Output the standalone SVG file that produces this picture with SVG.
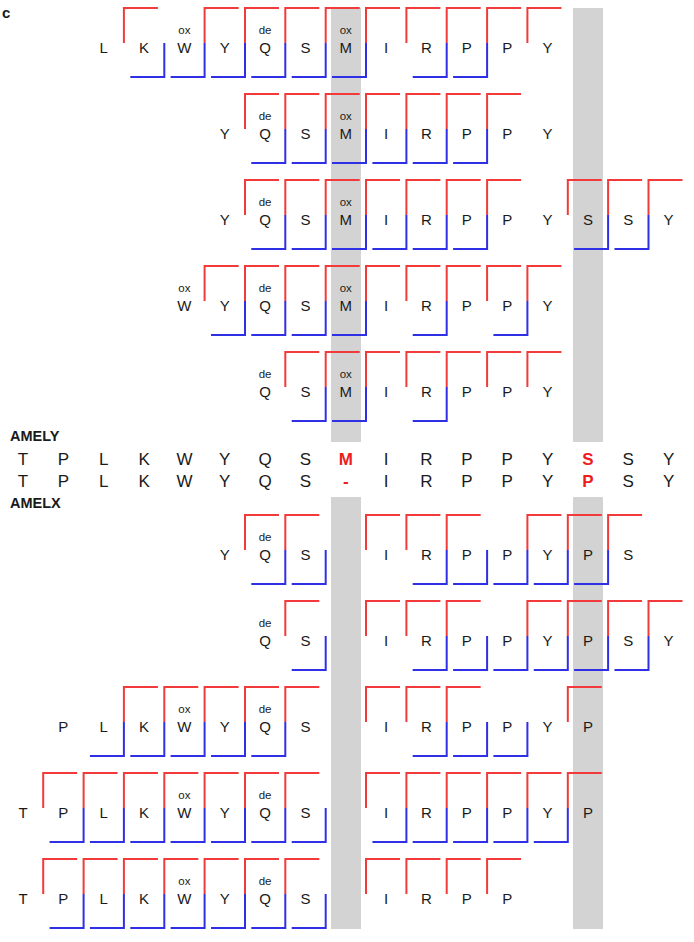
<svg xmlns="http://www.w3.org/2000/svg" width="694" height="942" viewBox="0 0 694 942">
<style>
text{font-family:"Liberation Sans",Arial,sans-serif;fill:#1a1a1a}
.a{font-size:15px;text-anchor:middle}
.m{font-size:11.5px;text-anchor:middle}
.s{font-size:17px;text-anchor:middle}
.h{font-size:17px;text-anchor:middle;font-weight:bold;fill:#ee1c1c}
.l{font-size:14.5px;font-weight:bold}
.r{fill:none;stroke:#f23a3a;stroke-width:2}
.b{fill:none;stroke:#2f2fe6;stroke-width:2}
.g{fill:#d3d3d3}
</style>
<rect width="694" height="942" fill="#fff"/>
<g id="bands">
<rect class="g" x="331" y="8" width="30" height="434"/>
<rect class="g" x="573" y="8" width="30" height="434"/>
<rect class="g" x="331" y="497" width="30" height="432"/>
<rect class="g" x="573" y="497" width="30" height="432"/>
</g>
<text class="l" x="2" y="18" style="font-size:15px">c</text>
<g id="connectors">
<path class="r" d="M123.9,43V8H157.9 M204.6,43V8H238.6 M245,43V8H279 M285.3,43V8H319.3 M325.7,43V8H359.7 M366,43V8H400 M406.4,43V8H440.4 M446.7,43V8H480.7 M487.1,43V8H521.1 M527.4,43V8H561.4"/>
<path class="b" d="M164.3,43V77H130.3 M204.6,43V77H170.6 M245,43V77H211 M285.3,43V77H251.3 M325.7,43V77H291.7 M366,43V77H332 M446.7,43V77H412.7 M487.1,43V77H453.1"/>
<path class="r" d="M245,129V94H279 M285.3,129V94H319.3 M325.7,129V94H359.7 M366,129V94H400 M406.4,129V94H440.4 M446.7,129V94H480.7 M487.1,129V94H521.1"/>
<path class="b" d="M285.3,129V163H251.3 M325.7,129V163H291.7 M366,129V163H332 M406.4,129V163H372.4 M446.7,129V163H412.7 M487.1,129V163H453.1"/>
<path class="r" d="M245,215V180H279 M285.3,215V180H319.3 M325.7,215V180H359.7 M366,215V180H400 M406.4,215V180H440.4 M446.7,215V180H480.7 M487.1,215V180H521.1 M567.8,215V180H601.8 M608.1,215V180H642.1 M648.5,215V180H682.5"/>
<path class="b" d="M285.3,215V249H251.3 M325.7,215V249H291.7 M366,215V249H332 M406.4,215V249H372.4 M446.7,215V249H412.7 M487.1,215V249H453.1 M608.1,215V249H574.1 M648.5,215V249H614.5"/>
<path class="r" d="M204.6,301V266H238.6 M245,301V266H279 M285.3,301V266H319.3 M325.7,301V266H359.7 M366,301V266H400 M406.4,301V266H440.4 M446.7,301V266H480.7 M487.1,301V266H521.1 M527.4,301V266H561.4"/>
<path class="b" d="M245,301V335H211 M285.3,301V335H251.3 M325.7,301V335H291.7 M366,301V335H332 M446.7,301V335H412.7 M527.4,301V335H493.4"/>
<path class="r" d="M285.3,387V352H319.3 M325.7,387V352H359.7 M366,387V352H400 M406.4,387V352H440.4 M446.7,387V352H480.7 M487.1,387V352H521.1 M527.4,387V352H561.4"/>
<path class="b" d="M325.7,387V421H291.7 M366,387V421H332 M446.7,387V421H412.7"/>
<path class="r" d="M245,550V515H279 M285.3,550V515H319.3 M366,550V515H400 M406.4,550V515H440.4 M446.7,550V515H480.7 M527.4,550V515H561.4 M567.8,550V515H601.8 M608.1,550V515H642.1"/>
<path class="b" d="M285.3,550V584H251.3 M325.7,550V584H291.7 M446.7,550V584H412.7 M487.1,550V584H453.1 M527.4,550V584H493.4 M567.8,550V584H533.8 M608.1,550V584H574.1"/>
<path class="r" d="M285.3,636V601H319.3 M366,636V601H400 M406.4,636V601H440.4 M446.7,636V601H480.7 M527.4,636V601H561.4 M567.8,636V601H601.8 M608.1,636V601H642.1 M648.5,636V601H682.5"/>
<path class="b" d="M325.7,636V670H291.7 M446.7,636V670H412.7 M487.1,636V670H453.1 M527.4,636V670H493.4 M567.8,636V670H533.8 M608.1,636V670H574.1 M648.5,636V670H614.5"/>
<path class="r" d="M123.9,722V687H157.9 M164.3,722V687H198.3 M204.6,722V687H238.6 M245,722V687H279 M285.3,722V687H319.3 M366,722V687H400 M406.4,722V687H440.4 M446.7,722V687H480.7 M567.8,722V687H601.8"/>
<path class="b" d="M123.9,722V756H89.9 M164.3,722V756H130.3 M204.6,722V756H170.6 M245,722V756H211 M285.3,722V756H251.3 M446.7,722V756H412.7 M487.1,722V756H453.1 M527.4,722V756H493.4"/>
<path class="r" d="M43.2,808V773H77.2 M83.6,808V773H117.6 M123.9,808V773H157.9 M164.3,808V773H198.3 M204.6,808V773H238.6 M245,808V773H279 M285.3,808V773H319.3 M366,808V773H400 M406.4,808V773H440.4 M446.7,808V773H480.7 M487.1,808V773H521.1 M527.4,808V773H561.4 M567.8,808V773H601.8"/>
<path class="b" d="M83.6,808V842H49.6 M123.9,808V842H89.9 M164.3,808V842H130.3 M204.6,808V842H170.6 M245,808V842H211 M285.3,808V842H251.3 M325.7,808V842H291.7 M406.4,808V842H372.4 M446.7,808V842H412.7 M487.1,808V842H453.1 M527.4,808V842H493.4 M567.8,808V842H533.8"/>
<path class="r" d="M43.2,894V859H77.2 M83.6,894V859H117.6 M123.9,894V859H157.9 M164.3,894V859H198.3 M204.6,894V859H238.6 M245,894V859H279 M285.3,894V859H319.3 M366,894V859H400 M406.4,894V859H440.4 M446.7,894V859H480.7 M487.1,894V859H521.1"/>
<path class="b" d="M83.6,894V928H49.6 M123.9,894V928H89.9 M164.3,894V928H130.3 M204.6,894V928H170.6 M245,894V928H211 M285.3,894V928H251.3 M325.7,894V928H291.7"/>
</g>
<g id="row1">
<text class="a" x="103.7" y="53">L</text><text class="a" x="144.05" y="53">K</text><text class="a" x="184.4" y="53">W</text><text class="a" x="224.75" y="53">Y</text><text class="a" x="265.1" y="53">Q</text><text class="a" x="305.45" y="53">S</text><text class="a" x="345.8" y="53">M</text><text class="a" x="386.15" y="53">I</text><text class="a" x="426.5" y="53">R</text><text class="a" x="466.85" y="53">P</text><text class="a" x="507.2" y="53">P</text><text class="a" x="547.55" y="53">Y</text>
<text class="m" x="184.4" y="34">ox</text><text class="m" x="265.1" y="34">de</text><text class="m" x="345.8" y="34">ox</text>
</g>
<g id="row2">
<text class="a" x="224.75" y="139">Y</text><text class="a" x="265.1" y="139">Q</text><text class="a" x="305.45" y="139">S</text><text class="a" x="345.8" y="139">M</text><text class="a" x="386.15" y="139">I</text><text class="a" x="426.5" y="139">R</text><text class="a" x="466.85" y="139">P</text><text class="a" x="507.2" y="139">P</text><text class="a" x="547.55" y="139">Y</text>
<text class="m" x="265.1" y="120">de</text><text class="m" x="345.8" y="120">ox</text>
</g>
<g id="row3">
<text class="a" x="224.75" y="225">Y</text><text class="a" x="265.1" y="225">Q</text><text class="a" x="305.45" y="225">S</text><text class="a" x="345.8" y="225">M</text><text class="a" x="386.15" y="225">I</text><text class="a" x="426.5" y="225">R</text><text class="a" x="466.85" y="225">P</text><text class="a" x="507.2" y="225">P</text><text class="a" x="547.55" y="225">Y</text><text class="a" x="587.9" y="225">S</text><text class="a" x="628.25" y="225">S</text><text class="a" x="668.6" y="225">Y</text>
<text class="m" x="265.1" y="206">de</text><text class="m" x="345.8" y="206">ox</text>
</g>
<g id="row4">
<text class="a" x="184.4" y="311">W</text><text class="a" x="224.75" y="311">Y</text><text class="a" x="265.1" y="311">Q</text><text class="a" x="305.45" y="311">S</text><text class="a" x="345.8" y="311">M</text><text class="a" x="386.15" y="311">I</text><text class="a" x="426.5" y="311">R</text><text class="a" x="466.85" y="311">P</text><text class="a" x="507.2" y="311">P</text><text class="a" x="547.55" y="311">Y</text>
<text class="m" x="184.4" y="292">ox</text><text class="m" x="265.1" y="292">de</text><text class="m" x="345.8" y="292">ox</text>
</g>
<g id="row5">
<text class="a" x="265.1" y="397">Q</text><text class="a" x="305.45" y="397">S</text><text class="a" x="345.8" y="397">M</text><text class="a" x="386.15" y="397">I</text><text class="a" x="426.5" y="397">R</text><text class="a" x="466.85" y="397">P</text><text class="a" x="507.2" y="397">P</text><text class="a" x="547.55" y="397">Y</text>
<text class="m" x="265.1" y="378">de</text><text class="m" x="345.8" y="378">ox</text>
</g>
<g id="alignment">
<text class="l" x="10" y="441">AMELY</text>
<text class="s" x="23" y="465">T</text><text class="s" x="63.35" y="465">P</text><text class="s" x="103.7" y="465">L</text><text class="s" x="144.05" y="465">K</text><text class="s" x="184.4" y="465">W</text><text class="s" x="224.75" y="465">Y</text><text class="s" x="265.1" y="465">Q</text><text class="s" x="305.45" y="465">S</text><text class="h" x="345.8" y="465">M</text><text class="s" x="386.15" y="465">I</text><text class="s" x="426.5" y="465">R</text><text class="s" x="466.85" y="465">P</text><text class="s" x="507.2" y="465">P</text><text class="s" x="547.55" y="465">Y</text><text class="h" x="587.9" y="465">S</text><text class="s" x="628.25" y="465">S</text><text class="s" x="668.6" y="465">Y</text>
<text class="s" x="23" y="487">T</text><text class="s" x="63.35" y="487">P</text><text class="s" x="103.7" y="487">L</text><text class="s" x="144.05" y="487">K</text><text class="s" x="184.4" y="487">W</text><text class="s" x="224.75" y="487">Y</text><text class="s" x="265.1" y="487">Q</text><text class="s" x="305.45" y="487">S</text><text class="h" x="345.8" y="487">-</text><text class="s" x="386.15" y="487">I</text><text class="s" x="426.5" y="487">R</text><text class="s" x="466.85" y="487">P</text><text class="s" x="507.2" y="487">P</text><text class="s" x="547.55" y="487">Y</text><text class="h" x="587.9" y="487">P</text><text class="s" x="628.25" y="487">S</text><text class="s" x="668.6" y="487">Y</text>
<text class="l" x="10" y="508">AMELX</text>
</g>
<g id="row6">
<text class="a" x="224.75" y="560">Y</text><text class="a" x="265.1" y="560">Q</text><text class="a" x="305.45" y="560">S</text><text class="a" x="386.15" y="560">I</text><text class="a" x="426.5" y="560">R</text><text class="a" x="466.85" y="560">P</text><text class="a" x="507.2" y="560">P</text><text class="a" x="547.55" y="560">Y</text><text class="a" x="587.9" y="560">P</text><text class="a" x="628.25" y="560">S</text>
<text class="m" x="265.1" y="541">de</text>
</g>
<g id="row7">
<text class="a" x="265.1" y="646">Q</text><text class="a" x="305.45" y="646">S</text><text class="a" x="386.15" y="646">I</text><text class="a" x="426.5" y="646">R</text><text class="a" x="466.85" y="646">P</text><text class="a" x="507.2" y="646">P</text><text class="a" x="547.55" y="646">Y</text><text class="a" x="587.9" y="646">P</text><text class="a" x="628.25" y="646">S</text><text class="a" x="668.6" y="646">Y</text>
<text class="m" x="265.1" y="627">de</text>
</g>
<g id="row8">
<text class="a" x="63.35" y="732">P</text><text class="a" x="103.7" y="732">L</text><text class="a" x="144.05" y="732">K</text><text class="a" x="184.4" y="732">W</text><text class="a" x="224.75" y="732">Y</text><text class="a" x="265.1" y="732">Q</text><text class="a" x="305.45" y="732">S</text><text class="a" x="386.15" y="732">I</text><text class="a" x="426.5" y="732">R</text><text class="a" x="466.85" y="732">P</text><text class="a" x="507.2" y="732">P</text><text class="a" x="547.55" y="732">Y</text><text class="a" x="587.9" y="732">P</text>
<text class="m" x="184.4" y="713">ox</text><text class="m" x="265.1" y="713">de</text>
</g>
<g id="row9">
<text class="a" x="23" y="818">T</text><text class="a" x="63.35" y="818">P</text><text class="a" x="103.7" y="818">L</text><text class="a" x="144.05" y="818">K</text><text class="a" x="184.4" y="818">W</text><text class="a" x="224.75" y="818">Y</text><text class="a" x="265.1" y="818">Q</text><text class="a" x="305.45" y="818">S</text><text class="a" x="386.15" y="818">I</text><text class="a" x="426.5" y="818">R</text><text class="a" x="466.85" y="818">P</text><text class="a" x="507.2" y="818">P</text><text class="a" x="547.55" y="818">Y</text><text class="a" x="587.9" y="818">P</text>
<text class="m" x="184.4" y="799">ox</text><text class="m" x="265.1" y="799">de</text>
</g>
<g id="row10">
<text class="a" x="23" y="904">T</text><text class="a" x="63.35" y="904">P</text><text class="a" x="103.7" y="904">L</text><text class="a" x="144.05" y="904">K</text><text class="a" x="184.4" y="904">W</text><text class="a" x="224.75" y="904">Y</text><text class="a" x="265.1" y="904">Q</text><text class="a" x="305.45" y="904">S</text><text class="a" x="386.15" y="904">I</text><text class="a" x="426.5" y="904">R</text><text class="a" x="466.85" y="904">P</text><text class="a" x="507.2" y="904">P</text>
<text class="m" x="184.4" y="885">ox</text><text class="m" x="265.1" y="885">de</text>
</g>
</svg>
